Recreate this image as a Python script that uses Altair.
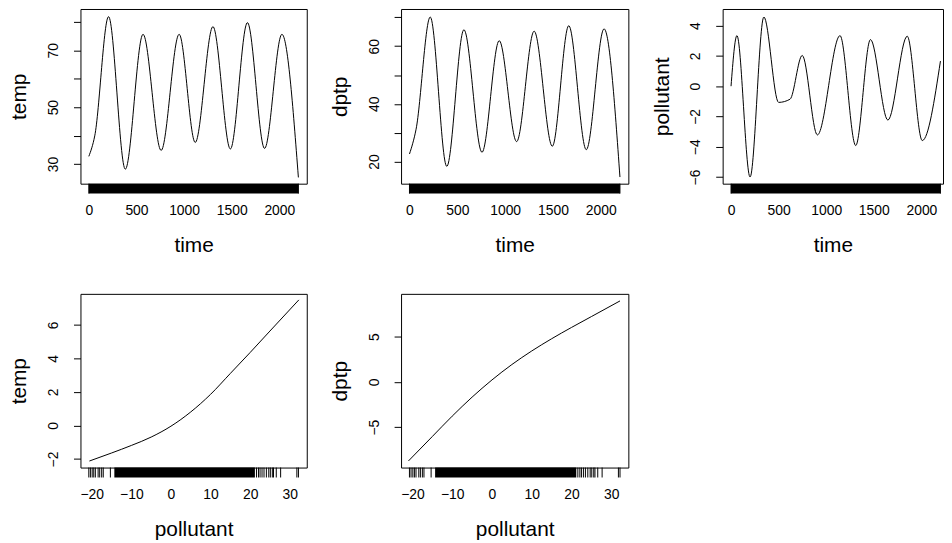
import altair as alt
import pandas as pd

FONT = "Liberation Sans"

# ---- data ----
# top row: smooth terms over time
temp_t = [0, 62, 207, 383, 569, 759, 948, 1117, 1303, 1486, 1665, 1845, 2027, 2200]
temp_v = [32.7, 39.9, 81.8, 28.2, 75.6, 34.8, 75.6, 37.6, 78.3, 35.3, 79.7, 35.5, 75.6, 25.3]

dptp_t = [0, 69, 217, 390, 569, 758, 938, 1120, 1303, 1493, 1665, 1848, 2034, 2200]
dptp_v = [22.6, 31.2, 70.1, 18.3, 65.7, 23.2, 61.9, 26.9, 65.2, 25.3, 67.1, 24.1, 66.0, 14.6]

pol_t = [0, 62, 200, 345, 500, 620, 748, 907, 1145, 1310, 1465, 1648, 1851, 2009, 2200]
pol_v = [0.0, 3.34, -6.0, 4.57, -1.07, -0.86, 2.03, -3.22, 3.34, -3.92, 3.08, -2.24, 3.30, -3.59, 1.66]

# bottom row: smooth terms over pollutant
p4_x = [-20.6, -15.0, -10.0, -5.0, 0.0, 5.0, 10.0, 15.0, 20.0, 25.0, 32.3]
p4_y = [-2.12, -1.64, -1.19, -0.69, -0.04, 0.81, 1.86, 3.11, 4.36, 5.64, 7.50]

p5_x = [-21.0, -15.0, -10.0, -5.0, 0.0, 5.0, 10.0, 15.0, 20.0, 25.0, 32.2]
p5_y = [-8.73, -6.03, -3.78, -1.68, 0.22, 1.92, 3.42, 4.77, 6.02, 7.22, 8.95]

# rugs: time is daily (solid band), pollutant has sparse tails and a solid middle
time_band = [0, 2200]
time_ticks = [0, 2200]
pol_band = [-14.3, 21.2]
pol_ticks = [-20.75, -20.35, -19.9, -19.5, -19.1, -18.4, -18.0, -17.5, -17.1, -15.3,
             21.6, 22.1, 22.5, 23.0, 23.5, 24.1, 24.7, 25.1, 25.6, 25.9, 26.6, 27.7, 31.8, 32.2]

# axis ticks / labels
time_xticks = [0, 500, 1000, 1500, 2000]
pol_xticks = [-20, -10, 0, 10, 20, 30]
y1_ticks, y1_labels = [30, 40, 50, 60, 70, 80], [30, 50, 70]
y2_ticks, y2_labels = [20, 30, 40, 50, 60, 70], [20, 40, 60]
y3_ticks, y3_labels = [-6, -4, -2, 0, 2, 4], [-6, -4, -2, 0, 2, 4]
y4_ticks, y4_labels = [-2, 0, 2, 4, 6], [-2, 0, 2, 4, 6]
y5_ticks, y5_labels = [-5, 0, 5], [-5, 0, 5]


def panel(lx, ly, band, ticks, xdom, ydom, xticks, yticks, ylabels, xtitle, ytitle, w, h):
    xs = alt.Scale(domain=xdom, nice=False, zero=False)
    ys = alt.Scale(domain=ydom, nice=False, zero=False)
    xaxis = alt.Axis(values=xticks, title=xtitle, ticks=False, tickSize=0, domain=False, grid=False,
                     format="d", labelPadding=31, labelBaseline="alphabetic", labelFlush=False,
                     titleX=w / 2, titleY=68, titleAlign="center", titleBaseline="alphabetic")
    lab = "[" + ",".join(str(v) for v in ylabels) + "]"
    yaxis = alt.Axis(values=yticks, title=ytitle, tickSize=7, domain=False, grid=False, format="d",
                     labelAngle=270, labelAlign="center", labelBaseline="middle", labelPadding=20,
                     labelFlush=False, labelExpr=f"indexof({lab}, datum.value) >= 0 ? datum.label : ''",
                     titleAngle=270, titleX=-55, titleY=h / 2, titleAlign="center",
                     titleBaseline="alphabetic")
    line = alt.Chart(pd.DataFrame({"x": lx, "y": ly})).mark_line(
        color="black", strokeWidth=1, interpolate="monotone"
    ).encode(x=alt.X("x:Q", scale=xs, axis=xaxis), y=alt.Y("y:Q", scale=ys, axis=yaxis))
    bnd = alt.Chart(pd.DataFrame({"x": [band[0]], "x2": [band[1]]})).mark_rect(color="black").encode(
        x=alt.X("x:Q", scale=xs, axis=xaxis), x2="x2:Q", y=alt.value(h), y2=alt.value(h + 10))
    rug = alt.Chart(pd.DataFrame({"x": ticks})).mark_rule(color="black", strokeWidth=1).encode(
        x=alt.X("x:Q", scale=xs, axis=xaxis), y=alt.value(h), y2=alt.value(h + 10))
    return alt.layer(line, bnd, rug).properties(width=w, height=h)


tdom = [-88, 2288]
pdom = [-22.86, 34.3]

p1 = panel(temp_t, temp_v, time_band, time_ticks, tdom, [23.1, 84.5], time_xticks,
           y1_ticks, y1_labels, "time", "temp", 228, 176)
p2 = panel(dptp_t, dptp_v, time_band, time_ticks, tdom, [12.3, 72.9], time_xticks,
           y2_ticks, y2_labels, "time", "dptp", 229, 176)
p3 = panel(pol_t, pol_v, time_band, time_ticks, [-88, 2227], [-6.44, 5.1], time_xticks,
           y3_ticks, y3_labels, "time", "pollutant", 222, 176)
p4 = panel(p4_x, p4_y, pol_band, pol_ticks, pdom, [-2.51, 7.86], pol_xticks,
           y4_ticks, y4_labels, "pollutant", "temp", 228, 175)
p5 = panel(p5_x, p5_y, pol_band, pol_ticks, pdom, [-9.46, 9.73], pol_xticks,
           y5_ticks, y5_labels, "pollutant", "dptp", 229, 175)

chart = alt.concat(p1, p2, p3, p4, p5, columns=3, spacing={"row": 111, "column": 95},
                   bounds="flush").properties(
    padding={"left": 0, "top": -2, "right": 0, "bottom": 0}
).configure(background="white").configure_view(stroke="black", strokeWidth=1).configure_axis(
    labelFont=FONT, titleFont=FONT, labelFontSize=14, titleFontSize=21,
    labelColor="black", titleColor="black", tickColor="black", titleFontWeight="normal"
)

chart.save("out.html", embed_options={"renderer": "svg", "actions": False})
